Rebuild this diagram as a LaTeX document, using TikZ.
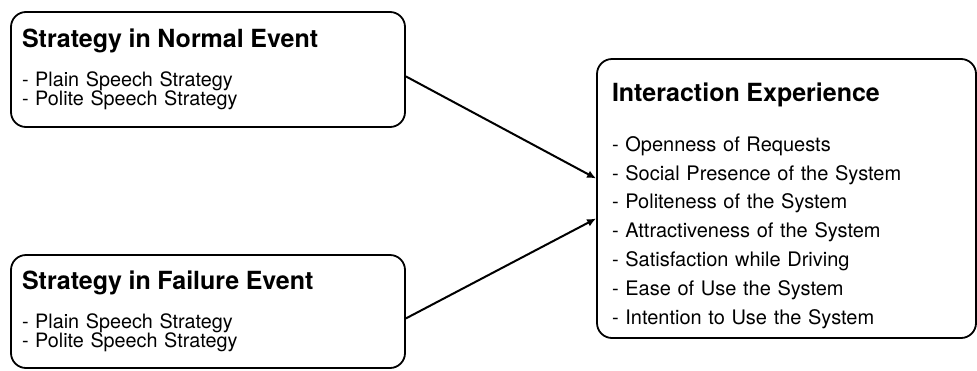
\documentclass[tikz,border=0pt]{standalone}
\usepackage{fontspec}
\setmainfont{TeX Gyre Heros}
\usetikzlibrary{arrows.meta}
\newcommand{\headfont}{\bfseries\fontsize{12.5}{14}\selectfont}
\tikzset{box/.style={draw,line width=0.9pt,rounded corners=7.5pt,align=left,
    font=\fontsize{9.9}{9.6}\selectfont}}

\begin{document}
\begin{tikzpicture}[x=0.5pt,y=-0.5pt]
        \useasboundingbox (0,0) rectangle (977,370);
        \node[box,minimum width=197pt,minimum height=57.5pt,inner xsep=5.5pt,text width=186pt] (normal) at (208,69.5)
            {{\headfont Strategy in Normal Event\par}\vspace{8pt}
             - Plain Speech Strategy\\ - Polite Speech Strategy};
        \node[box,minimum width=197pt,minimum height=56.5pt,inner xsep=5.5pt,text width=186pt] (failure) at (208,311.5)
            {{\headfont Strategy in Failure Event\par}\vspace{8pt}
             - Plain Speech Strategy\\ - Polite Speech Strategy};
        \node[box,minimum width=189.5pt,minimum height=139.5pt,inner xsep=7.5pt,text width=174.5pt,
              font=\fontsize{10}{14.4}\selectfont] (exp) at (786.5,198.5)
            {\rule{0pt}{7pt}\par\nointerlineskip
             {\headfont Interaction Experience\par}\vspace{10.6pt}
             - Openness of Requests\\
             - Social Presence of the System\\
             - Politeness of the System\\
             - Attractiveness of the System\\
             - Satisfaction while Driving\\
             - Ease of Use the System\\
             - Intention to Use the System};
        \draw[line width=1pt,-{Latex[length=4.5pt,width=4pt]}] (normal.358) -- (exp.174);
        \draw[line width=1pt,-{Latex[length=4.5pt,width=4pt]}] (failure.358) -- (exp.186);
    \end{tikzpicture}
\end{document}
